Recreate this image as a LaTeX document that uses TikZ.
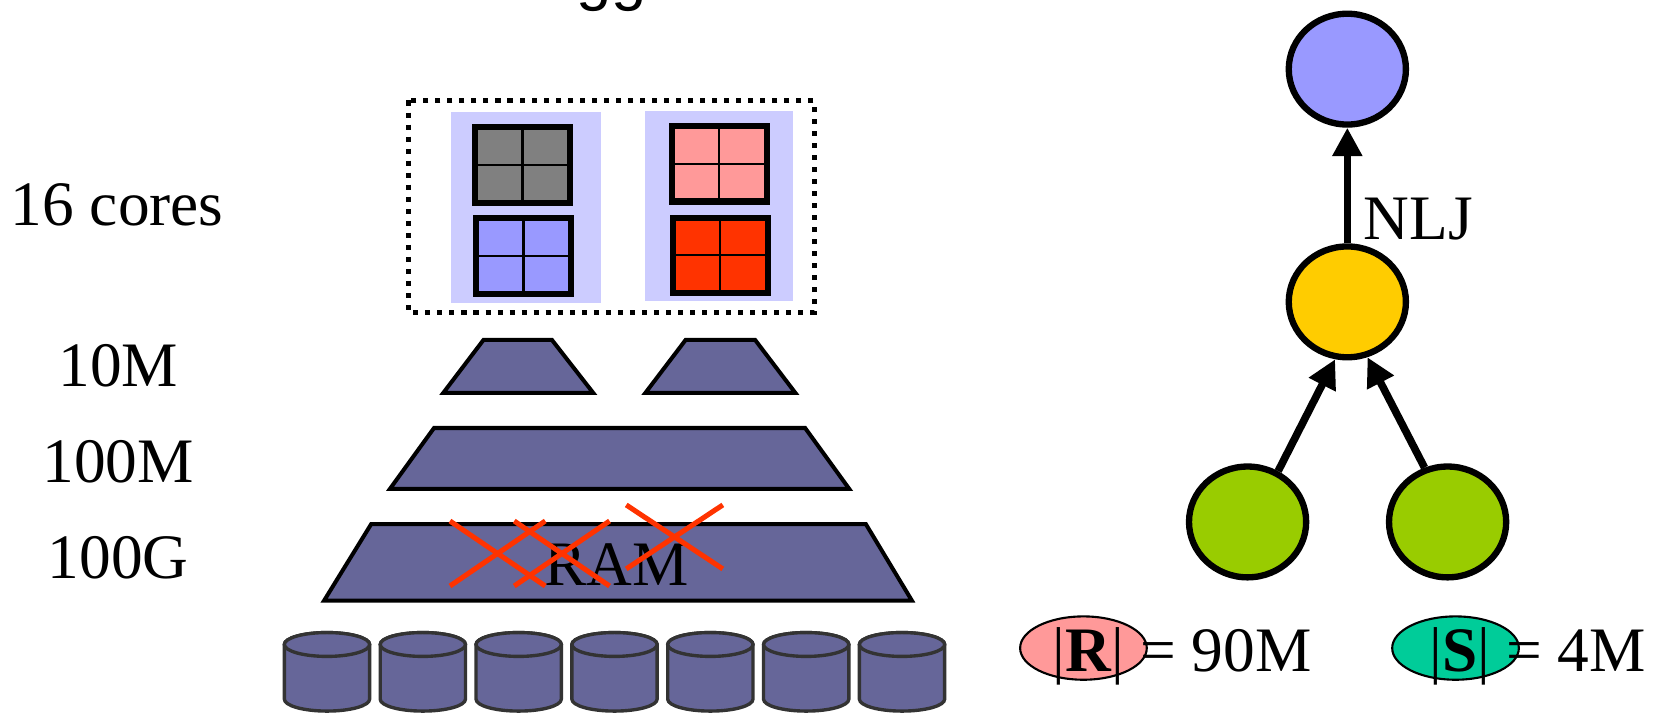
\documentclass[tikz,border=0pt]{standalone}
\usepackage{fontspec}
\setmainfont{Liberation Serif}
\newfontfamily\headfont{Liberation Sans}
\usetikzlibrary{arrows.meta,shapes.geometric}

\definecolor{panelblue}{HTML}{CCCCFF}
\definecolor{chipgray}{HTML}{808080}
\definecolor{chipblue}{HTML}{9999FF}
\definecolor{chippink}{HTML}{FF9999}
\definecolor{chipred}{HTML}{FF3300}
\definecolor{memfill}{HTML}{666699}
\definecolor{diskline}{HTML}{333333}
\definecolor{crossred}{HTML}{FF3300}
\definecolor{opblue}{HTML}{9999FF}
\definecolor{opyellow}{HTML}{FFCC00}
\definecolor{opgreen}{HTML}{99CC00}
\definecolor{cardR}{HTML}{FF9999}
\definecolor{cardS}{HTML}{00CC99}

\tikzset{
  lbl/.style={font=\fontsize{60}{62}\selectfont, inner sep=0pt, anchor=base},
  chip/.style={draw=black, line width=6pt, minimum width=90pt, minimum height=71.5pt,
               inner sep=0pt, outer sep=0pt},
  chipgrid/.style={line width=2pt},
  cache/.style={fill=memfill, draw=black, line width=3.8pt, line join=miter},
  cross/.style={draw=crossred, line width=4.8pt},
  disk/.style={fill=memfill, draw=diskline, line width=3.2pt},
  opnode/.style={ellipse, draw=black, line width=6pt, minimum width=111pt,
                 minimum height=105pt, inner sep=0pt},
  flow/.style={line width=7.2pt, -{Triangle[length=27pt,width=27pt]}},
  card/.style={ellipse, draw=black, line width=2pt, minimum width=120pt,
               minimum height=60pt, inner sep=0pt},
}

\begin{document}
\begin{tikzpicture}[x=1pt,y=-1pt]
\useasboundingbox (0,0) rectangle (1568,676);

% heading running off the top edge
\node[font=\headfont\fontsize{60}{62}\selectfont, inner sep=0pt, anchor=base west] (head) at (546,-1) {gg};

% level labels
\node[lbl] (cores) at (111,214) {16 cores};
\node[lbl] (l1) at (112,366) {10M};
\node[lbl] (l2) at (112,457) {100M};
\node[lbl] (l3) at (112,548) {100G};

% processor package
\fill[panelblue] (427,106) rectangle (569,287);
\fill[panelblue] (611,105) rectangle (751,285);
\draw[line width=4.8pt, dash pattern=on 4.8pt off 6.6pt] (387.2,95.2) rectangle (771.4,296);

\node[chip, fill=chipgray] (c1) at (495,156.3) {};
\node[chip, fill=chipblue] (c2) at (496,242.5) {};
\node[chip, fill=chippink] (c3) at (681.5,155.3) {};
\node[chip, fill=chipred]  (c4) at (682.5,242) {};
\foreach \c in {c1,c2,c3,c4}
  \draw[chipgrid] (\c.north) -- (\c.south) (\c.west) -- (\c.east);

% cache levels and memory
\draw[cache] (420,372.2) -- (458.2,321.9) -- (522.8,321.9) -- (562,372.2) -- cycle;
\draw[cache] (611.5,372.2) -- (649.7,321.9) -- (715.3,321.9) -- (753.5,372.2) -- cycle;
\draw[cache] (369.5,463.1) -- (411.2,405.5) -- (762.8,405.5) -- (804.5,463.1) -- cycle;
\draw[cache] (307,569.1) -- (351.7,496.5) -- (820.3,496.5) -- (864,569.1) -- cycle;
\node[lbl] (ram) at (584,555) {RAM};

% crossed-out marks
\draw[cross] (426.3,493.6) -- (516.6,555.2) (426.3,555.2) -- (516.6,493.6);
\draw[cross] (487.2,493.6) -- (577.5,555.2) (487.2,555.2) -- (577.5,493.6);
\draw[cross] (593.3,478.4) -- (684.8,539) (593.3,539) -- (684.8,478.4);

% disks
\foreach \i in {0,...,6} {
  \pgfmathsetmacro\cx{309.8+90.8*\i}
  \filldraw[disk] (\cx-40.4,610.6) -- (\cx-40.4,662.4)
     arc[start angle=180, end angle=360, x radius=40.4pt, y radius=11.3pt]
     -- (\cx+40.4,610.6)
     arc[start angle=0, end angle=180, x radius=40.4pt, y radius=11.3pt] -- cycle;
  \filldraw[disk] (\cx,610.6) ellipse[x radius=40.4pt, y radius=11.3pt];
}

% query plan
\node[opnode, fill=opblue]   (top)   at (1276.5,65.5) {};
\node[opnode, fill=opyellow] (join)  at (1276.5,286) {};
\node[opnode, fill=opgreen]  (left)  at (1182,494.5) {};
\node[opnode, fill=opgreen]  (right) at (1371.5,494.5) {};
\draw[flow] (join.north) -- (top.south);
\draw[flow] (left.59) -- (join.258);
\draw[flow] (right.113) -- (join.290);
\node[lbl, anchor=base west] (nlj) at (1292,227) {NLJ};

% relation sizes
\node[card, fill=cardR] (rset) at (1026.5,614) {};
\node[lbl] (rname) at (1031,636) {|\textbf{R}|};
\node[lbl, anchor=base west] (rsize) at (1080,636) {= 90M};
\node[card, fill=cardS] (sset) at (1379,614) {};
\node[lbl] (sname) at (1383,636) {|\textbf{S}|};
\node[lbl, anchor=base west] (ssize) at (1427,636) {= 4M};
\end{tikzpicture}
\end{document}
